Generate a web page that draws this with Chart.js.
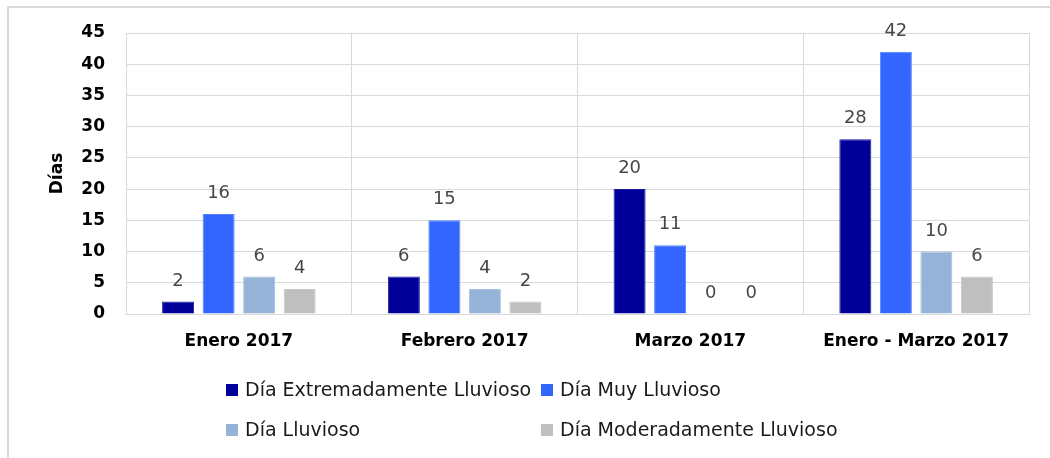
<!DOCTYPE html>
<html>
<head>
<meta charset="utf-8">
<script src="https://cdn.jsdelivr.net/npm/chart.js@4/dist/chart.umd.min.js"></script>
<style>
  html, body { margin: 0; padding: 0; background: #fff; }
  #wrap { position: relative; width: 1050px; height: 458px; overflow: hidden; }
  #frame { position: absolute; left: 7px; top: 6px; width: 1100px; height: 500px; border: 2px solid #d9d9d9; box-sizing: border-box; }
  canvas { position: absolute; left: 0; top: 0; }
</style>
</head>
<body>
<div id="wrap">
  <div id="frame"></div>
  <canvas id="c" width="1050" height="458"></canvas>
</div>
<script>
const categories = ['Enero 2017', 'Febrero 2017', 'Marzo 2017', 'Enero - Marzo 2017'];
const seriesNames = ['Día Extremadamente Lluvioso', 'Día Muy Lluvioso', 'Día Lluvioso', 'Día Moderadamente Lluvioso'];
const extremadamente = [2, 6, 20, 28];
const muy = [16, 15, 11, 42];
const lluvioso = [6, 4, 0, 10];
const moderadamente = [4, 2, 0, 6];
const yTicks = [0, 5, 10, 15, 20, 25, 30, 35, 40, 45];
const yTitle = 'Días';

const colors = ['#000099', '#3366FF', '#95B3D7', '#BFBFBF'];
const edgeColors = ['#1a1aa3', '#5580ff', '#a6c0df', '#c8c8c8'];
const seriesValues = [extremadamente, muy, lluvioso, moderadamente];

const dataLabels = {
  id: 'dataLabels',
  afterDatasetsDraw(chart) {
    const ctx = chart.ctx;
    ctx.save();
    ctx.font = '18px "DejaVu Sans"';
    ctx.fillStyle = '#474747';
    ctx.textAlign = 'center';
    ctx.textBaseline = 'alphabetic';
    chart.data.datasets.forEach((ds, i) => {
      const meta = chart.getDatasetMeta(i);
      meta.data.forEach((el, j) => {
        ctx.fillText(String(ds.data[j]), el.x, el.y - 16);
      });
    });
    ctx.restore();
  }
};

const gridLegend = {
  id: 'gridLegend',
  afterDraw(chart) {
    const ctx = chart.ctx;
    const cols = [226, 541];
    const rows = [390, 430];
    ctx.save();
    ctx.font = '19px "DejaVu Sans"';
    ctx.textAlign = 'left';
    ctx.textBaseline = 'middle';
    chart.data.datasets.forEach((ds, i) => {
      const x = cols[i % 2];
      const y = rows[Math.floor(i / 2)];
      ctx.fillStyle = ds.backgroundColor;
      ctx.fillRect(x, y - 6, 12, 12);
      ctx.fillStyle = '#1a1a1a';
      ctx.fillText(ds.label, x + 19, y + 1);
    });
    ctx.restore();
  }
};

new Chart(document.getElementById('c'), {
  type: 'bar',
  data: {
    labels: categories,
    datasets: seriesNames.map((name, i) => ({
      label: name,
      data: seriesValues[i],
      backgroundColor: colors[i],
      borderColor: edgeColors[i],
      borderWidth: 1,
      categoryPercentage: 0.718,
      barPercentage: 0.79
    }))
  },
  options: {
    responsive: false,
    devicePixelRatio: 1,
    animation: false,
    layout: { padding: { left: 0, right: 21, top: 33, bottom: 0 } },
    plugins: {
      legend: { display: false },
      tooltip: { enabled: false }
    },
    scales: {
      x: {
        grid: { color: '#d9d9d9', lineWidth: 1, drawTicks: false, offset: true },
        border: { color: '#d9d9d9', width: 1 },
        ticks: {
          padding: 17,
          color: '#000',
          font: { family: '"DejaVu Sans"', size: 17, weight: 'bold' },
          maxRotation: 0,
          autoSkip: false
        },
        afterFit(scale) { scale.height = 144; }
      },
      y: {
        min: 0,
        max: 45,
        afterBuildTicks(scale) { scale.ticks = yTicks.map(v => ({ value: v })); },
        grid: { color: '#d9d9d9', lineWidth: 1, drawTicks: false },
        border: { color: '#d9d9d9', width: 1 },
        ticks: {
          padding: 21,
          color: '#000',
          font: { family: '"DejaVu Sans"', size: 17, weight: 'bold' }
        },
        title: {
          display: true,
          text: yTitle,
          color: '#000',
          font: { family: '"DejaVu Sans"', size: 17, weight: 'bold' },
          padding: { top: 47, bottom: 0 }
        },
        afterFit(scale) { scale.width = 126; }
      }
    }
  },
  plugins: [dataLabels, gridLegend]
});
</script>
</body>
</html>
